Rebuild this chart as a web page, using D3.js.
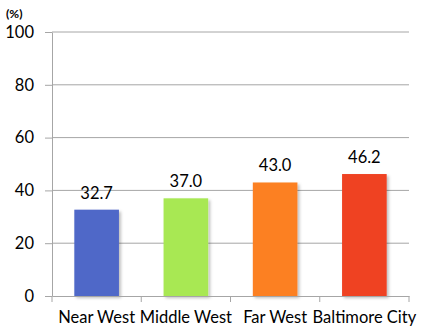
<!DOCTYPE html>
<html>
<head>
<meta charset="utf-8">
<script src="https://cdn.jsdelivr.net/npm/d3@7"></script>
<style>
  body { margin: 0; background: #fff; }
  text { font-family: Lato, "Open Sans", sans-serif; }
</style>
</head>
<body>
<div id="chart"></div>
<script>
var categories = ["Near West", "Middle West", "Far West", "Baltimore City"];
var values = [32.7, 37.0, 43.0, 46.2];
var barColors = ["#4f67c8", "#a8e852", "#fc8020", "#ef4223"];
var yTicks = [0, 20, 40, 60, 80, 100];

var width = 421, height = 328;
var margin = { left: 52, right: 12, top: 32, bottom: 32 };

var svg = d3.select("#chart")
	.append("svg")
	.attr("width", width)
	.attr("height", height);

var x = d3.scaleBand()
	.domain(categories)
	.range([margin.left, width - margin.right])
	.padding(0);

var y = d3.scaleLinear()
	.domain([0, 100])
	.range([height - margin.bottom, margin.top]);

// shadow for the bars
var defs = svg.append("defs");
var shadow = defs.append("filter").attr("id", "shadow")
	.attr("x", "-20%").attr("y", "-20%").attr("width", "140%").attr("height", "140%");
shadow.append("feDropShadow")
	.attr("dx", 2).attr("dy", 2).attr("stdDeviation", 1.5)
	.attr("flood-color", "#000").attr("flood-opacity", 0.25);

// gridlines + y axis
var yAxis = svg.append("g")
	.attr("transform", "translate(" + margin.left + ",0)")
	.call(d3.axisLeft(y).tickValues(yTicks).tickSize(7).tickPadding(11)
		.tickSizeOuter(0));
yAxis.select(".domain").attr("stroke", "#a6a6a6");
yAxis.selectAll(".tick line").attr("stroke", "#a6a6a6");
yAxis.selectAll(".tick text")
	.style("font-size", "16.5px")
	.attr("fill", "#000");

svg.append("g").selectAll("line")
	.data(yTicks.filter(function(d) { return d > 0; }))
	.enter().append("line")
	.attr("x1", margin.left)
	.attr("x2", width - margin.right)
	.attr("y1", function(d) { return y(d); })
	.attr("y2", function(d) { return y(d); })
	.attr("stroke", "#a6a6a6");

// bars
var barW = x.bandwidth() * 0.5;
svg.append("g").selectAll("rect")
	.data(values)
	.enter().append("rect")
	.attr("x", function(d, i) { return x(categories[i]) + (x.bandwidth() - barW) / 2; })
	.attr("y", function(d) { return y(d); })
	.attr("width", barW)
	.attr("height", function(d) { return y(0) - y(d); })
	.attr("fill", function(d, i) { return barColors[i]; })
	.attr("filter", "url(#shadow)");

// value labels
svg.append("g").selectAll("text")
	.data(values)
	.enter().append("text")
	.attr("x", function(d, i) { return x(categories[i]) + x.bandwidth() / 2; })
	.attr("y", function(d) { return y(d) - 11; })
	.attr("text-anchor", "middle")
	.style("font-size", "16.5px")
	.text(function(d) { return d.toFixed(1); });

// x axis
var xAxis = svg.append("g")
	.attr("transform", "translate(0," + y(0) + ")")
	.call(d3.axisBottom(x).tickSize(0).tickPadding(15));
xAxis.select(".domain").attr("stroke", "#a6a6a6");
xAxis.selectAll(".tick text")
	.style("font-size", "16.5px")
	.attr("fill", "#000");
// category separators
xAxis.selectAll(".sep")
	.data(categories.concat([null]))
	.enter().append("line")
	.attr("x1", function(d, i) { return margin.left + i * x.step(); })
	.attr("x2", function(d, i) { return margin.left + i * x.step(); })
	.attr("y1", 0).attr("y2", 6)
	.attr("stroke", "#a6a6a6");

// unit label
svg.append("text")
	.attr("x", 6)
	.attr("y", 18)
	.style("font-size", "12px")
	.style("font-weight", "bold")
	.text("(%)");
</script>
</body>
</html>
